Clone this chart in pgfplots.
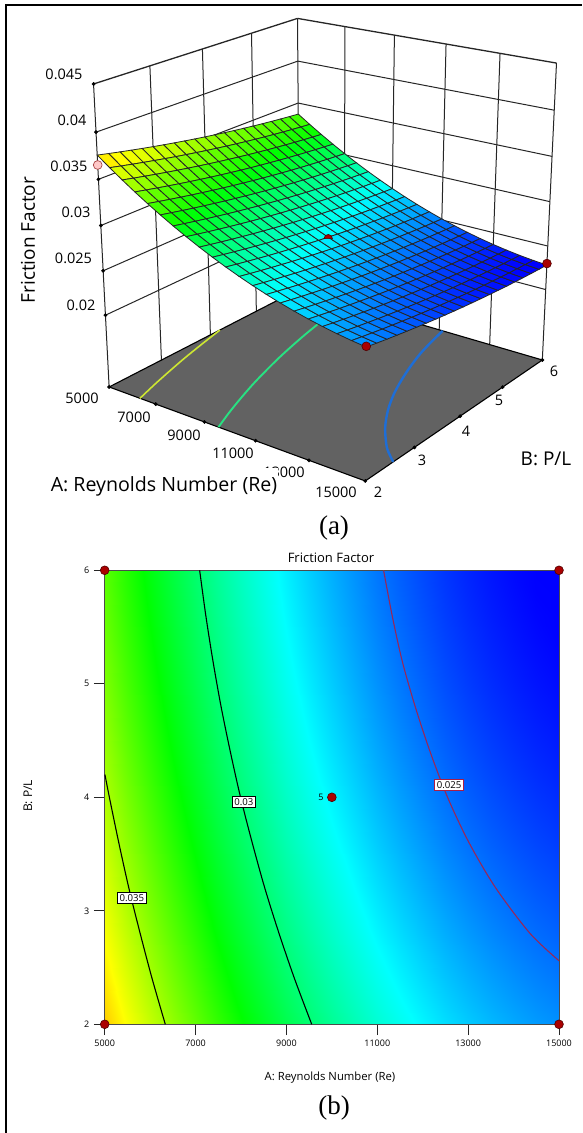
\documentclass[border=0pt]{standalone}
\usepackage{fontspec}
\setmainfont{Open Sans}
\newfontfamily\capfont{Liberation Serif}
\usepackage{pgfplots}
\usepackage{pgfplotstable}
\pgfplotsset{compat=1.18}
\definecolor{floorgray}{RGB}{98,98,98}
\definecolor{markred}{RGB}{170,0,0}
\definecolor{markedge}{RGB}{80,0,0}
\definecolor{cmaroon}{RGB}{150,40,90}
\newcommand\fs[1]{\fontsize{#1}{#1}\selectfont}
\pgfdeclareplotmark{topsemi}{\pgfpathmoveto{\pgfqpoint{-\pgfplotmarksize}{0pt}}\pgfpatharc{180}{0}{\pgfplotmarksize}\pgfpathclose\pgfusepathqfillstroke}
\pgfplotsset{
  /pgfplots/colormap={dx}{rgb255=(0,0,255) rgb255=(0,255,255) rgb255=(0,255,0) rgb255=(255,255,0) rgb255=(255,0,0)},
  /pgfplots/table/proj/.style={x expr={projx(\thisrow{A},\thisrow{B},\thisrow{F})},y expr={projy(\thisrow{A},\thisrow{B},\thisrow{F})}},
  /pgfplots/table/projfloor/.style={x expr={projx(\thisrow{A},\thisrow{B},0.0117)},y expr={projy(\thisrow{A},\thisrow{B},0.0117)}},
}
\newcommand\seg[7][line width=1pt]{\addplot[black!85,#1] table[proj,row sep=\\]{A B F\\#2 #3 #4\\#5 #6 #7\\};}
\newcommand\lab[4][]{\node[#1] at ({#2*1pt},{(1133-#3)*1pt}) {#4};}
\pgfplotstableread{
A B F
5000 2 0.037580
5500 2 0.036576
6000 2 0.035614
6500 2 0.034694
7000 2 0.033817
7500 2 0.032983
8000 2 0.032191
8500 2 0.031443
9000 2 0.030735
9500 2 0.030071
10000 2 0.029450
10500 2 0.028871
11000 2 0.028335
11500 2 0.027841
12000 2 0.027389
12500 2 0.026981
13000 2 0.026615
13500 2 0.026292
14000 2 0.026010
14500 2 0.025772
15000 2 0.025576
5000 2.2 0.037304
5500 2.2 0.036303
6000 2.2 0.035344
6500 2.2 0.034427
7000 2.2 0.033553
7500 2.2 0.032722
8000 2.2 0.031932
8500 2.2 0.031187
9000 2.2 0.030482
9500 2.2 0.029821
10000 2.2 0.029203
10500 2.2 0.028627
11000 2.2 0.028094
11500 2.2 0.027603
12000 2.2 0.027154
12500 2.2 0.026748
13000 2.2 0.026385
13500 2.2 0.026065
14000 2.2 0.025786
14500 2.2 0.025551
15000 2.2 0.025358
5000 2.4 0.037036
5500 2.4 0.036038
6000 2.4 0.035082
6500 2.4 0.034167
7000 2.4 0.033296
7500 2.4 0.032468
8000 2.4 0.031682
8500 2.4 0.030940
9000 2.4 0.030237
9500 2.4 0.029579
10000 2.4 0.028964
10500 2.4 0.028391
11000 2.4 0.027861
11500 2.4 0.027372
12000 2.4 0.026926
12500 2.4 0.026524
13000 2.4 0.026164
13500 2.4 0.025847
14000 2.4 0.025570
14500 2.4 0.025338
15000 2.4 0.025148
5000 2.6 0.036777
5500 2.6 0.035782
6000 2.6 0.034828
6500 2.6 0.033917
7000 2.6 0.033049
7500 2.6 0.032224
8000 2.6 0.031440
8500 2.6 0.030701
9000 2.6 0.030002
9500 2.6 0.029346
10000 2.6 0.028734
10500 2.6 0.028164
11000 2.6 0.027636
11500 2.6 0.027151
12000 2.6 0.026708
12500 2.6 0.026308
13000 2.6 0.025951
13500 2.6 0.025637
14000 2.6 0.025364
14500 2.6 0.025134
15000 2.6 0.024947
5000 2.8 0.036526
5500 2.8 0.035534
6000 2.8 0.034583
6500 2.8 0.033675
7000 2.8 0.032809
7500 2.8 0.031987
8000 2.8 0.031207
8500 2.8 0.030470
9000 2.8 0.029774
9500 2.8 0.029121
10000 2.8 0.028512
10500 2.8 0.027945
11000 2.8 0.027420
11500 2.8 0.026938
12000 2.8 0.026497
12500 2.8 0.026101
13000 2.8 0.025747
13500 2.8 0.025435
14000 2.8 0.025165
14500 2.8 0.024938
15000 2.8 0.024754
5000 3 0.036284
5500 3 0.035295
6000 3 0.034347
6500 3 0.033442
7000 3 0.032579
7500 3 0.031760
8000 3 0.030982
8500 3 0.030249
9000 3 0.029555
9500 3 0.028906
10000 3 0.028299
10500 3 0.027734
11000 3 0.027213
11500 3 0.026733
12000 3 0.026296
12500 3 0.025902
13000 3 0.025551
13500 3 0.025242
14000 3 0.024975
14500 3 0.024751
15000 3 0.024570
5000 3.2 0.036050
5500 3.2 0.035063
6000 3.2 0.034119
6500 3.2 0.033216
7000 3.2 0.032357
7500 3.2 0.031540
8000 3.2 0.030765
8500 3.2 0.030035
9000 3.2 0.029344
9500 3.2 0.028698
10000 3.2 0.028094
10500 3.2 0.027532
11000 3.2 0.027014
11500 3.2 0.026537
12000 3.2 0.026103
12500 3.2 0.025712
13000 3.2 0.025363
13500 3.2 0.025058
14000 3.2 0.024793
14500 3.2 0.024573
15000 3.2 0.024394
5000 3.4 0.035825
5500 3.4 0.034841
6000 3.4 0.033900
6500 3.4 0.033000
7000 3.4 0.032143
7500 3.4 0.031330
8000 3.4 0.030558
8500 3.4 0.029830
9000 3.4 0.029142
9500 3.4 0.028499
10000 3.4 0.027898
10500 3.4 0.027339
11000 3.4 0.026824
11500 3.4 0.026350
12000 3.4 0.025918
12500 3.4 0.025530
13000 3.4 0.025185
13500 3.4 0.024882
14000 3.4 0.024620
14500 3.4 0.024403
15000 3.4 0.024227
5000 3.6 0.035608
5500 3.6 0.034627
6000 3.6 0.033688
6500 3.6 0.032792
7000 3.6 0.031938
7500 3.6 0.031127
8000 3.6 0.030358
8500 3.6 0.029633
9000 3.6 0.028949
9500 3.6 0.028308
10000 3.6 0.027710
10500 3.6 0.027154
11000 3.6 0.026641
11500 3.6 0.026171
12000 3.6 0.025742
12500 3.6 0.025357
13000 3.6 0.025014
13500 3.6 0.024714
14000 3.6 0.024456
14500 3.6 0.024241
15000 3.6 0.024068
5000 3.8 0.035400
5500 3.8 0.034422
6000 3.8 0.033486
6500 3.8 0.032592
7000 3.8 0.031741
7500 3.8 0.030934
8000 3.8 0.030168
8500 3.8 0.029446
9000 3.8 0.028764
9500 3.8 0.028126
10000 3.8 0.027531
10500 3.8 0.026978
11000 3.8 0.026468
11500 3.8 0.026000
12000 3.8 0.025574
12500 3.8 0.025192
13000 3.8 0.024853
13500 3.8 0.024556
14000 3.8 0.024300
14500 3.8 0.024088
15000 3.8 0.023918
5000 4 0.035200
5500 4 0.034225
6000 4 0.033292
6500 4 0.032401
7000 4 0.031553
7500 4 0.030748
8000 4 0.029985
8500 4 0.029266
9000 4 0.028587
9500 4 0.027952
10000 4 0.027360
10500 4 0.026810
11000 4 0.026303
11500 4 0.025838
12000 4 0.025415
12500 4 0.025036
13000 4 0.024699
13500 4 0.024405
14000 4 0.024152
14500 4 0.023943
15000 4 0.023776
5000 4.2 0.035009
5500 4.2 0.034037
6000 4.2 0.033107
6500 4.2 0.032219
7000 4.2 0.031374
7500 4.2 0.030571
8000 4.2 0.029811
8500 4.2 0.029095
9000 4.2 0.028419
9500 4.2 0.027787
10000 4.2 0.027198
10500 4.2 0.026651
11000 4.2 0.026147
11500 4.2 0.025685
12000 4.2 0.025265
12500 4.2 0.024889
13000 4.2 0.024554
13500 4.2 0.024263
14000 4.2 0.024013
14500 4.2 0.023807
15000 4.2 0.023643
5000 4.4 0.034826
5500 4.4 0.033857
6000 4.4 0.032930
6500 4.4 0.032044
7000 4.4 0.031202
7500 4.4 0.030403
8000 4.4 0.029646
8500 4.4 0.028933
9000 4.4 0.028259
9500 4.4 0.027630
10000 4.4 0.027044
10500 4.4 0.026500
11000 4.4 0.025999
11500 4.4 0.025539
12000 4.4 0.025122
12500 4.4 0.024749
13000 4.4 0.024418
13500 4.4 0.024130
14000 4.4 0.023882
14500 4.4 0.023679
15000 4.4 0.023518
5000 4.6 0.034652
5500 4.6 0.033686
6000 4.6 0.032761
6500 4.6 0.031879
7000 4.6 0.031040
7500 4.6 0.030243
8000 4.6 0.029489
8500 4.6 0.028779
9000 4.6 0.028109
9500 4.6 0.027482
10000 4.6 0.026899
10500 4.6 0.026358
11000 4.6 0.025859
11500 4.6 0.025403
12000 4.6 0.024989
12500 4.6 0.024619
13000 4.6 0.024290
13500 4.6 0.024005
14000 4.6 0.023761
14500 4.6 0.023560
15000 4.6 0.023402
5000 4.8 0.034486
5500 4.8 0.033523
6000 4.8 0.032601
6500 4.8 0.031722
7000 4.8 0.030885
7500 4.8 0.030092
8000 4.8 0.029341
8500 4.8 0.028633
9000 4.8 0.027966
9500 4.8 0.027342
10000 4.8 0.026762
10500 4.8 0.026224
11000 4.8 0.025728
11500 4.8 0.025275
12000 4.8 0.024863
12500 4.8 0.024496
13000 4.8 0.024171
13500 4.8 0.023888
14000 4.8 0.023647
14500 4.8 0.023449
15000 4.8 0.023294
5000 5 0.034329
5500 5 0.033368
6000 5 0.032450
6500 5 0.031573
7000 5 0.030740
7500 5 0.029949
8000 5 0.029201
8500 5 0.028496
9000 5 0.027832
9500 5 0.027211
10000 5 0.026634
10500 5 0.026098
11000 5 0.025606
11500 5 0.025156
12000 5 0.024747
12500 5 0.024383
13000 5 0.024060
13500 5 0.023781
14000 5 0.023542
14500 5 0.023348
15000 5 0.023195
5000 5.2 0.034180
5500 5.2 0.033222
6000 5.2 0.032307
6500 5.2 0.031433
7000 5.2 0.030603
7500 5.2 0.029815
8000 5.2 0.029069
8500 5.2 0.028368
9000 5.2 0.027706
9500 5.2 0.027089
10000 5.2 0.026514
10500 5.2 0.025981
11000 5.2 0.025492
11500 5.2 0.025044
12000 5.2 0.024639
12500 5.2 0.024277
13000 5.2 0.023957
13500 5.2 0.023681
14000 5.2 0.023445
14500 5.2 0.023254
15000 5.2 0.023104
5000 5.4 0.034040
5500 5.4 0.033085
6000 5.4 0.032173
6500 5.4 0.031302
7000 5.4 0.030474
7500 5.4 0.029689
8000 5.4 0.028947
8500 5.4 0.028248
9000 5.4 0.027589
9500 5.4 0.026975
10000 5.4 0.026403
10500 5.4 0.025873
11000 5.4 0.025387
11500 5.4 0.024942
12000 5.4 0.024539
12500 5.4 0.024181
13000 5.4 0.023864
13500 5.4 0.023590
14000 5.4 0.023357
14500 5.4 0.023169
15000 5.4 0.023022
5000 5.6 0.033908
5500 5.6 0.032956
6000 5.6 0.032046
6500 5.6 0.031179
7000 5.6 0.030354
7500 5.6 0.029572
8000 5.6 0.028832
8500 5.6 0.028136
9000 5.6 0.027481
9500 5.6 0.026869
10000 5.6 0.026300
10500 5.6 0.025773
11000 5.6 0.025289
11500 5.6 0.024848
12000 5.6 0.024448
12500 5.6 0.024092
13000 5.6 0.023778
13500 5.6 0.023507
14000 5.6 0.023278
14500 5.6 0.023092
15000 5.6 0.022948
5000 5.8 0.033785
5500 5.8 0.032836
6000 5.8 0.031929
6500 5.8 0.031064
7000 5.8 0.030242
7500 5.8 0.029463
8000 5.8 0.028727
8500 5.8 0.028034
9000 5.8 0.027381
9500 5.8 0.026772
10000 5.8 0.026206
10500 5.8 0.025682
11000 5.8 0.025201
11500 5.8 0.024762
12000 5.8 0.024365
12500 5.8 0.024013
13000 5.8 0.023702
13500 5.8 0.023434
14000 5.8 0.023207
14500 5.8 0.023024
15000 5.8 0.022883
5000 6 0.033670
5500 6 0.032724
6000 6 0.031820
6500 6 0.030958
7000 6 0.030139
7500 6 0.029363
8000 6 0.028629
8500 6 0.027939
9000 6 0.027289
9500 6 0.026683
10000 6 0.026120
10500 6 0.025599
11000 6 0.025121
11500 6 0.024685
12000 6 0.024291
12500 6 0.023941
13000 6 0.023633
13500 6 0.023368
14000 6 0.023144
14500 6 0.022964
15000 6 0.022826
}\surfdata
\pgfplotstableread{
A B
5005 4.2
5103 4.0
5310 3.6
5532 3.2
5781 2.8
6045 2.4
6334 2.0
}\cthree
\pgfplotstableread{
A B
7090 6
7226 5.6
7383 5.2
7561 4.8
7766 4.4
7990 4.0
8247 3.6
8524 3.2
8838 2.8
9180 2.4
9557 2
}\ctwo
\pgfplotstableread{
A B
11139 6
11328 5.6
11549 5.2
11834 4.8
12164 4.4
12547 4.0
13020 3.6
13609 3.2
14364 2.8
15000 2.56
}\cone
\begin{document}
\begin{tikzpicture}[declare function={
    pd(\p,\q,\r)=1-0.1105*(\p-5000)/10000+0.1356*(\q-2)/4-0.065*(\r-0.0117)/0.0333;
    projx(\p,\q,\r)=(109.13+215.77*(\p-5000)/10000+231.05*(\q-2)/4-21.67*(\r-0.0117)/0.0333)/pd(\p,\q,\r);
    projy(\p,\q,\r)=1133-(387+40.85*(\p-5000)/10000-58.81*(\q-2)/4-308.46*(\r-0.0117)/0.0333)/pd(\p,\q,\r);
  }]
\path[use as bounding box,fill=white] (0,0) rectangle (582pt,1133pt);
\begin{axis}[at={(0,0)},anchor=south west,width=582pt,height=1133pt,scale only axis,
  xmin=0,xmax=582,ymin=0,ymax=1133,hide axis,clip=false,
  point meta min=0.0230,point meta max=0.0412]
\pgfplotsinvokeforeach{0.02,0.025,0.03,0.035,0.04}{
  \seg{5000}{2}{#1}{5000}{6}{#1}
  \seg{5000}{6}{#1}{15000}{6}{#1}
}
\pgfplotsinvokeforeach{3,4,5}{\seg{5000}{#1}{0.0117}{5000}{#1}{0.045}}
\pgfplotsinvokeforeach{7000,9000,11000,13000}{\seg{#1}{6}{0.0117}{#1}{6}{0.045}}
\seg{5000}{2}{0.0117}{5000}{2}{0.045}
\seg{5000}{6}{0.0117}{5000}{6}{0.045}
\seg{15000}{6}{0.0117}{15000}{6}{0.045}
\seg[line width=1.3pt]{5000}{2}{0.045}{5000}{6}{0.045}
\seg[line width=1.3pt]{5000}{6}{0.045}{15000}{6}{0.045}
\addplot[fill=floorgray,draw=black,line width=1.1pt] table[proj,row sep=\\]{A B F\\5000 2 0.0117\\15000 2 0.0117\\15000 6 0.0117\\5000 6 0.0117\\} -- cycle;
\addplot[smooth,line width=1.6pt,color={rgb,255:red,205;green,230;blue,50}] table[projfloor]{\cthree};
\addplot[smooth,line width=1.9pt,color={rgb,255:red,40;green,225;blue,130}] table[projfloor]{\ctwo};
\addplot[smooth,line width=2.4pt,color={rgb,255:red,30;green,110;blue,215}] table[projfloor]{\cone};
\addplot[only marks,mark=*,mark size=1.7pt,black] table[proj,row sep=\\]{A B F\\5000 2 0.02\\5000 2 0.025\\5000 2 0.03\\5000 2 0.035\\5000 2 0.04\\5000 2 0.045\\5000 2 0.0117\\7000 2 0.0117\\9000 2 0.0117\\11000 2 0.0117\\13000 2 0.0117\\15000 2 0.0117\\15000 3 0.0117\\15000 4 0.0117\\15000 5 0.0117\\15000 6 0.0117\\};
\addplot[surf,shader=faceted,faceted color=black!85,line width=0.8pt,mesh/rows=21,mesh/cols=21,point meta=\thisrow{F}] table[proj]{\surfdata};
\addplot[only marks,mark=*,mark size=4.4pt,mark options={fill={rgb,255:red,255;green,200;blue,200},draw={rgb,255:red,170;green,70;blue,70},line width=0.7pt}] table[proj,row sep=\\]{A B F\\5000 2 0.03653\\};
\addplot[only marks,mark=*,mark size=4.4pt,mark options={fill=markred,draw=markedge,line width=0.6pt}] table[proj,row sep=\\]{A B F\\15000 2 0.02565\\15000 6 0.0230\\};
\addplot[only marks,mark=topsemi,mark size=4.2pt,mark options={fill=markred,draw=markedge,line width=0.6pt}] table[proj,row sep=\\]{A B F\\10000 4 0.0272\\};
\end{axis}
\begin{axis}[at={(104.7pt,108.7pt)},anchor=south west,width=454.3pt,height=454pt,scale only axis,
  xmin=5000,xmax=15000,ymin=2,ymax=6,axis on top,
  xtick={5000,7000,9000,11000,13000,15000},ytick={2,3,4,5,6},
  tick align=outside,major tick length=10.8pt,xtick pos=left,ytick pos=left,
  tick style={black!85,line width=1pt},
  axis line style={black!70,line width=1pt},
  scaled ticks=false,
  /pgf/number format/1000 sep={},/pgf/number format/assume math mode=true,
  ticklabel style={font=\fs{9}},
  xticklabel style={yshift=-1.5pt},
  yticklabel style={xshift=-1pt},
  point meta min=0.0230,point meta max=0.0412]
\addplot[surf,shader=interp,mesh/rows=21,mesh/cols=21,point meta=\thisrow{F}] table[x=A,y=B]{\surfdata};
\end{axis}
\begin{axis}[at={(104.7pt,108.7pt)},anchor=south west,width=454.3pt,height=454pt,scale only axis,
  xmin=5000,xmax=15000,ymin=2,ymax=6,hide axis,clip=false]
\addplot[smooth,black,line width=1.1pt] table[x=A,y=B]{\cthree};
\addplot[smooth,black,line width=1.1pt] table[x=A,y=B]{\ctwo};
\addplot[smooth,cmaroon,line width=1.1pt] table[x=A,y=B]{\cone};
\addplot[only marks,mark=*,mark size=4.4pt,mark options={fill=markred,draw=markedge,line width=0.6pt}] table[row sep=\\]{x y\\5000 2\\15000 2\\5000 6\\15000 6\\10000 4\\};
\node[fill=white,draw=black,line width=0.9pt,inner sep=2pt,font=\fs{9.6}] at (axis cs:8064,3.96) {0.03};
\node[fill=white,draw=black,line width=0.9pt,inner sep=2pt,font=\fs{9.6}] at (axis cs:5596,3.11) {0.035};
\node[fill=white,draw={rgb,255:red,170;green,30;blue,70},line width=0.9pt,inner sep=2pt,font=\fs{9.6}] at (axis cs:12579,4.11) {0.025};
\end{axis}
% frame
\draw[line width=2pt] (5.5pt,0pt) -- (5.5pt,1128pt) -- (582pt,1128pt);
% 3D tick labels
\lab[font=\fs{14.5}]{64}{74}{0.045}
\lab[font=\fs{14.5}]{72}{120}{0.04}
\lab[font=\fs{14.5}]{69}{166}{0.035}
\lab[font=\fs{14.5}]{76}{212}{0.03}
\lab[font=\fs{14.5}]{73.5}{258}{0.025}
\lab[font=\fs{14.5}]{81}{305}{0.02}
\lab[font=\fs{14.5}]{82}{398}{5000}
\lab[font=\fs{14.5}]{134}{417}{7000}
\lab[font=\fs{14.5}]{184}{435}{9000}
\lab[font=\fs{14.5}]{233}{453}{11000}
\lab[font=\fs{14.5}]{284}{472}{13000}
\lab[font=\fs{14.5}]{336}{492}{15000}
\lab[font=\fs{14.5}]{378}{492}{2}
\lab[font=\fs{14.5}]{422}{460}{3}
\lab[font=\fs{14.5}]{466}{431}{4}
\lab[font=\fs{14.5}]{499}{400}{5}
\lab[font=\fs{14.5}]{554}{371}{6}
\lab[font=\fs{19.6},fill=white,inner sep=1pt,minimum height=36pt]{164}{486}{A: Reynolds Number (Re)}
\lab[font=\fs{19}]{546}{459}{B: P/L}
\lab[font=\fs{19},rotate=90]{28}{240}{Friction Factor}
\lab[font=\fs{27}\capfont]{334}{528}{(a)}
\lab[font=\fs{27}\capfont]{334}{1108}{(b)}
\lab[font=\fs{13}]{331}{558}{Friction Factor}
\lab[font=\fs{11.3}]{330}{1078}{A: Reynolds Number (Re)}
\lab[font=\fs{12},rotate=90]{28}{796}{B: P/L}
\lab[font=\fs{9}]{321}{797}{5}
\end{tikzpicture}
\end{document}
